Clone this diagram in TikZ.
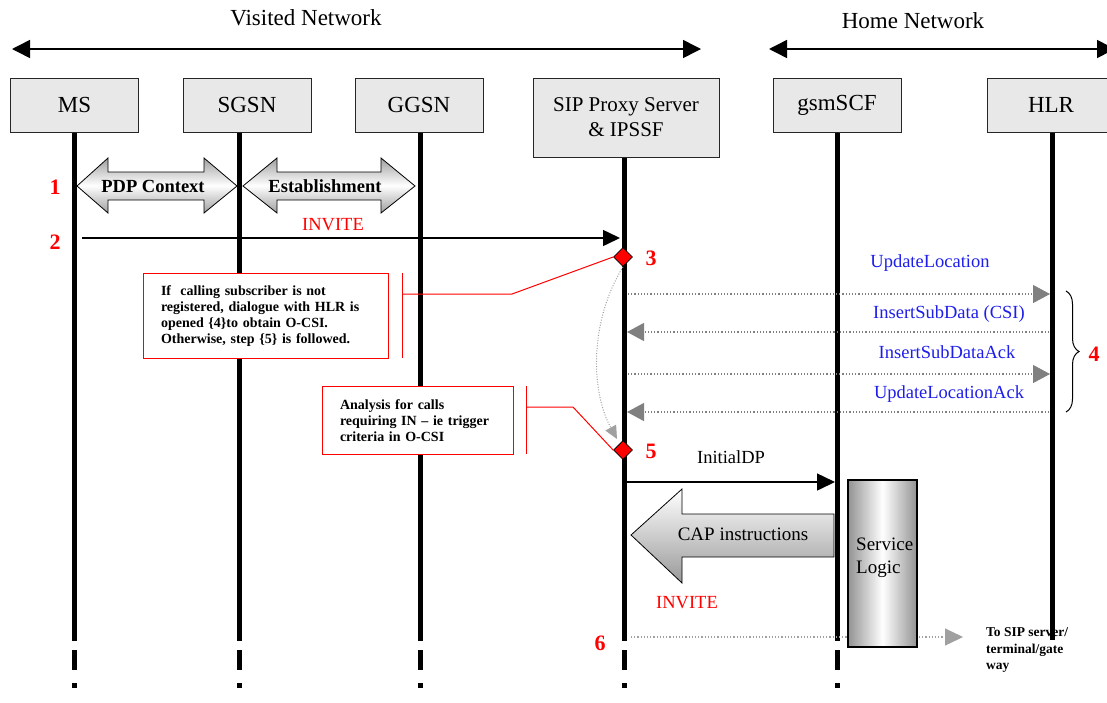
\documentclass[tikz,border=0pt]{standalone}
\usepackage{fontspec}
\setmainfont{Liberation Serif}
\usetikzlibrary{arrows.meta,decorations.pathreplacing,shapes.geometric}
\definecolor{boxfill}{RGB}{232,232,232}
\definecolor{msgblue}{RGB}{30,30,235}
\definecolor{tipgray}{RGB}{128,128,128}
\definecolor{lightgray6}{RGB}{160,160,160}
\begin{document}
\begin{tikzpicture}[x=1pt,y=-1pt,
  entity/.style={draw=black!85, line width=1pt, fill=boxfill, minimum width=128pt, minimum height=54pt, inner sep=0pt, font=\fontsize{23}{27}\selectfont, align=center},
  life/.style={line width=5pt},
  netarrow/.style={line width=1.5pt, {Triangle[length=18pt,width=18pt]}-{Triangle[length=18pt,width=18pt]}},
  num/.style={text=red, font=\bfseries\fontsize{22}{24}\selectfont},
  lbl/.style={font=\fontsize{18.5}{21}\selectfont},
  bluelbl/.style={lbl, text=msgblue},
  dotmsg/.style={draw=tipgray, dash pattern=on 1.2pt off 2pt, line width=1.2pt, -{Triangle[length=17pt,width=18pt]}},
  solidmsg/.style={line width=1.5pt, -{Triangle[length=17pt,width=16pt]}},
  callout/.style={draw=red, line width=1pt, fill=white, inner sep=0pt},
  calltext/.style={font=\bfseries\fontsize{14}{16}\selectfont, align=left},
  redline/.style={draw=red, line width=1pt},
  diam/.style={diamond, draw=black, fill=red, minimum size=19pt, inner sep=0pt, line width=0.8pt},
  blockarrow/.style={draw=black, line width=0.8pt}
]
\useasboundingbox (0,0) rectangle (1107,702);

% network headers
\node[font=\fontsize{23}{27}\selectfont] (visited) at (306,18) {Visited Network};
\node[font=\fontsize{23}{27}\selectfont] (home) at (913,21) {Home Network};
\coordinate (vl) at (12,49); \coordinate (vr) at (701,49);
\coordinate (hl) at (769,49); \coordinate (hr) at (1115,49);
\draw[netarrow] (vl) -- (vr);
\draw[netarrow] (hl) -- (hr);

% entity boxes
\node[entity] (ms) at (74.5,105) {MS};
\node[entity] (sgsn) at (247,105) {SGSN};
\node[entity] (ggsn) at (419,105) {GGSN};
\node[entity, minimum width=186pt, minimum height=79pt, font=\fontsize{21}{27}\selectfont] (sip) at (626,117.5) {SIP Proxy Server\\[-2pt]\& IPSSF};
\node[entity] (scf) at (837,105) {gsmSCF};
\node[entity] (hlr) at (1051,105) {HLR};

% text under HLR lifeline
\node[font=\bfseries\fontsize{13.5}{16.5}\selectfont, align=left, anchor=west, inner sep=0pt] (dest) at (986,650) {To SIP server/\\terminal/gate\\way};

% lifelines
\foreach \n/\x in {ms/74.5, sgsn/239.5, ggsn/420, sip/624, scf/837.5} {
  \coordinate (\n end) at (\x,641);
  \draw[life] (\n end |- \n.south) -- (\n end);
  \coordinate (\n da) at (\x,650); \coordinate (\n db) at (\x,670);
  \coordinate (\n dc) at (\x,683); \coordinate (\n dd) at (\x,688);
  \draw[life] (\n da) -- (\n db);
  \draw[life] (\n dc) -- (\n dd);
}
\coordinate (hlr end) at (1052.5,640);
\draw[life] (hlr end |- hlr.south) -- (hlr end);

% step 1 block arrows
\shadedraw[blockarrow, top color=gray!75, bottom color=gray!75, middle color=white]
  (77,186) -- (108,158) -- (108,172) -- (204,172) -- (204,158) -- (237,186)
  -- (204,213) -- (204,200) -- (108,200) -- (108,213) -- cycle;
\shadedraw[blockarrow, top color=gray!75, bottom color=gray!75, middle color=white]
  (243,186) -- (277,158) -- (277,172) -- (381,172) -- (381,158) -- (415,186)
  -- (381,213) -- (381,200) -- (277,200) -- (277,213) -- cycle;
\node[font=\bfseries\fontsize{18.5}{21}\selectfont] (pdp) at (153,186) {PDP Context};
\node[font=\bfseries\fontsize{18.5}{21}\selectfont] (est) at (325,186) {Establishment};

% numbers
\node[num] (n1) at (55,187) {1};
\node[num] (n2) at (55,242) {2};
\node[num] (n3) at (651,258) {3};
\node[num] (n4) at (1094,354) {4};
\node[num] (n5) at (651,451) {5};
\node[num] (n6) at (600,643) {6};

% step 2 INVITE
\coordinate (i2s) at (82,238); \coordinate (i2e) at (620,238);
\draw[solidmsg] (i2s) -- (i2e);
\node[lbl, text=red] (inv1) at (333,225) {INVITE};

% step 4 messages
\coordinate (a1) at (628,294); \coordinate (b1) at (1050,294);
\coordinate (a2) at (1049,332); \coordinate (b2) at (627,332);
\coordinate (a3) at (628,374); \coordinate (b3) at (1050,374);
\coordinate (a4) at (1049,412); \coordinate (b4) at (627,412);
\draw[dotmsg] (a1) -- (b1);
\draw[dotmsg] (a2) -- (b2);
\draw[dotmsg] (a3) -- (b3);
\draw[dotmsg] (a4) -- (b4);
\node[bluelbl] (ul) at (930,263) {UpdateLocation};
\node[bluelbl] (isd) at (949,314) {InsertSubData (CSI)};
\node[bluelbl] (isda) at (947,352) {InsertSubDataAck};
\node[bluelbl] (ula) at (949,394) {UpdateLocationAck};
\coordinate (br1) at (1066,291); \coordinate (br2) at (1066,412);
\draw[decorate, decoration={brace, amplitude=13pt}, line width=1pt] (br1) -- (br2);

% diamonds
\node[diam] (d3) at (623,257) {};
\node[diam] (d5) at (623,450) {};

% curved dotted arrow from 3 to 5
\draw[draw=lightgray6, dash pattern=on 1pt off 1.6pt, line width=1pt, -{Triangle[length=13pt,width=12pt]}]
  (d3.south) .. controls (590,320) and (590,390) .. (617,439);

% callouts
\node[callout, minimum width=245pt, minimum height=85pt] (c1) at (265.5,315.5) {};
\node[calltext, text width=210pt, inner sep=0pt] (c1t) at (266,316) {If~ calling subscriber is not\\registered, dialogue with HLR is\\opened \{4\}to obtain O-CSI.\\Otherwise, step \{5\} is followed.};
\coordinate (k1) at (512,294); \coordinate (k2) at (402,294);
\coordinate (v1a) at (402,273); \coordinate (v1b) at (402,358);
\draw[redline] (d3.west) -- (k1) -- (k2);
\draw[redline] (v1a) -- (v1b);

\node[callout, minimum width=191pt, minimum height=68pt] (c2) at (417.5,420) {};
\node[calltext, text width=155pt, inner sep=0pt] (c2t) at (417.5,421) {Analysis for calls\\requiring IN -- ie trigger\\criteria in O-CSI};
\coordinate (k3) at (573,407); \coordinate (k4) at (526,407);
\coordinate (v2a) at (526,386); \coordinate (v2b) at (526,454);
\draw[redline] (d5.west) -- (k3) -- (k4);
\draw[redline] (v2a) -- (v2b);

% InitialDP
\coordinate (idps) at (626,482); \coordinate (idpe) at (835,482);
\draw[line width=1.5pt, -{Triangle[length=18pt,width=17pt]}] (idps) -- (idpe);
\node[lbl] (idp) at (731,457) {InitialDP};

% CAP instructions block arrow
\shadedraw[blockarrow, top color=white, bottom color=gray!80]
  (631,535) -- (682,489) -- (682,514) -- (834,514) -- (834,557) -- (682,557) -- (682,583) -- cycle;
\node[font=\fontsize{19}{22}\selectfont] (cap) at (743,534) {CAP instructions};

% step 6
\node[lbl, text=red] (inv2) at (687,603) {INVITE};
\coordinate (s6a) at (631,637); \coordinate (s6b) at (963,637);
\draw[draw=lightgray6, dash pattern=on 1.2pt off 2pt, line width=1.2pt, -{Triangle[length=18pt,width=17pt]}] (s6a) -- (s6b);

% service logic
\shadedraw[draw=black, line width=1.2pt, left color=gray!85, right color=gray!85, middle color=white]
  (848,480) rectangle (917,647);
\coordinate (slc) at (882.5,563.5);
\node[font=\fontsize{19}{23}\selectfont, align=left, anchor=west, inner sep=0pt] (sl) at (856,558) {Service\\Logic};

\end{tikzpicture}
\end{document}
